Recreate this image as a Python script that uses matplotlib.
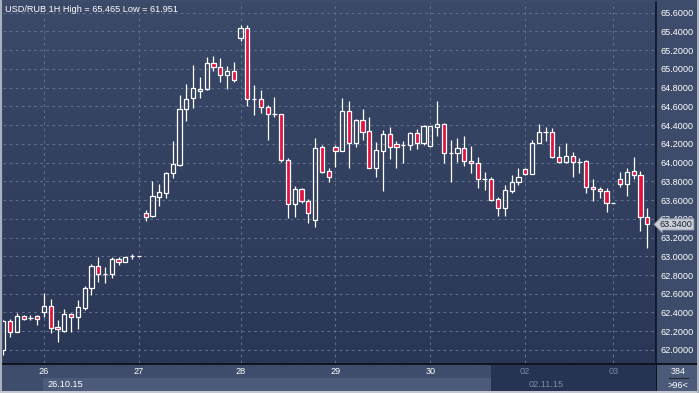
import matplotlib.pyplot as plt
import numpy as np
from matplotlib.patches import Rectangle
from matplotlib.lines import Line2D
import matplotlib.transforms as mtransforms

# hourly USD/RUB candles, 96 bars (open, high, low, close)
opens = [62.00, 62.31, 62.195, 62.36, 62.34, 62.358, 62.408, 62.465, 62.24, 62.205,
         62.38, 62.348, 62.444, 62.657, 62.892, 62.814, 62.81, 62.967, 62.935, 62.998,
         63.0, 63.461, 63.429, 63.636, 63.678, 63.885, 63.974, 64.568, 64.685, 64.76,
         64.781, 65.066, 65.016, 64.931, 64.974, 65.333, 65.433, 64.675, 64.675, 64.596,
         64.52, 64.515, 64.027, 63.554, 63.714, 63.59, 63.387, 64.163, 63.91, 64.166,
         64.127, 64.55, 64.205, 64.454, 64.337, 63.946, 64.127, 64.305, 64.195, 64.19,
         64.19, 64.312, 64.212, 64.18, 64.38, 64.408, 64.1, 64.1, 64.152, 64.02,
         63.992, 63.825, 63.825, 63.61, 63.519, 63.7, 63.789, 63.928, 63.881, 64.205,
         64.323, 64.323, 64.056, 64.01, 64.066, 64.01, 64.013, 63.743, 63.714, 63.696,
         63.565, 63.828, 63.768, 63.91, 63.864, 63.423]
highs = [62.32, 62.33, 62.39, 62.375, 62.375, 62.375, 62.61, 62.543, 62.319, 62.437,
         62.394, 62.533, 62.682, 62.917, 62.995, 62.881, 62.99, 62.995, 62.995, 63.02,
         63.0, 63.493, 63.803, 63.771, 63.895, 64.23, 64.721, 64.838, 65.041, 64.917,
         65.13, 65.141, 65.112, 65.031, 65.073, 65.465, 65.465, 64.828, 64.774, 64.614,
         64.696, 64.52, 64.045, 63.75, 63.732, 63.608, 64.259, 64.188, 63.938, 64.184,
         64.693, 64.657, 64.465, 64.572, 64.49, 64.223, 64.348, 64.383, 64.23, 64.23,
         64.33, 64.355, 64.4, 64.387, 64.657, 64.426, 64.241, 64.259, 64.284, 64.18,
         64.059, 63.899, 63.85, 63.632, 63.761, 63.867, 63.938, 63.938, 64.241, 64.412,
         64.376, 64.365, 64.177, 64.212, 64.117, 64.045, 64.027, 63.825, 63.743, 63.725,
         63.565, 63.903, 63.938, 64.059, 63.91, 63.516]
lows = [61.951, 62.14, 62.19, 62.32, 62.315, 62.27, 62.355, 62.184, 62.088, 62.195,
        62.195, 62.227, 62.427, 62.586, 62.721, 62.711, 62.764, 62.91, 62.935, 62.97,
        63.0, 63.379, 63.422, 63.536, 63.625, 63.838, 63.963, 64.447, 64.586, 64.689,
        64.78, 64.981, 64.863, 64.789, 64.863, 65.301, 64.607, 64.507, 64.529, 64.241,
        64.483, 64.01, 63.412, 63.422, 63.565, 63.358, 63.316, 63.893, 63.796, 63.956,
        64.127, 63.946, 64.17, 64.241, 63.946, 63.849, 63.7, 64.038, 63.938, 63.999,
        64.134, 64.145, 64.19, 64.18, 64.284, 63.999, 63.796, 64.01, 63.967, 63.893,
        63.732, 63.707, 63.593, 63.433, 63.433, 63.679, 63.76, 63.867, 63.881, 64.205,
        64.234, 64.045, 63.992, 63.992, 63.849, 63.885, 63.672, 63.593, 63.618, 63.476,
        63.565, 63.736, 63.647, 63.821, 63.273, 63.089]
closes = [62.31, 62.195, 62.36, 62.335, 62.34, 62.33, 62.465, 62.237, 62.22, 62.383,
          62.348, 62.454, 62.657, 62.892, 62.807, 62.814, 62.967, 62.935, 62.995, 62.998,
          63.0, 63.422, 63.643, 63.682, 63.885, 63.981, 64.568, 64.675, 64.792, 64.789,
          65.066, 65.016, 64.931, 64.974, 64.885, 65.433, 64.675, 64.675, 64.596, 64.522,
          64.52, 64.027, 63.554, 63.714, 63.593, 63.458, 64.152, 63.903, 63.849, 64.12,
          64.55, 64.205, 64.454, 64.33, 63.946, 64.134, 64.305, 64.17, 64.17, 64.19,
          64.312, 64.212, 64.387, 64.387, 64.408, 64.099, 64.1, 64.152, 64.02, 63.992,
          63.828, 63.825, 63.604, 63.519, 63.707, 63.792, 63.842, 63.881, 64.205, 64.323,
          64.323, 64.056, 64.01, 64.066, 64.002, 64.01, 63.743, 63.714, 63.693, 63.565,
          63.565, 63.768, 63.899, 63.864, 63.415, 63.34]

day_index = [6, 20, 35, 49, 63, 77, 90]
day_labels = ['26', '27', '28', '29', '30', '02', '03']
price_ticks = [62.0, 62.2, 62.4, 62.6, 62.8, 63.0, 63.2, 63.4, 63.6, 63.8,
               64.0, 64.2, 64.4, 64.6, 64.8, 65.0, 65.2, 65.4, 65.6]
title = 'USD/RUB 1H High = 65.465 Low = 61.951'
last_price = 63.34

W, H = 699, 393
FONT = 'Liberation Sans'
RED = '#e3123f'


def box(x0, y0, x1, y1):
    # pixel box (top-left origin) -> figure fraction rect
    return [x0 / W, (H - y1) / H, (x1 - x0) / W, (y1 - y0) / H]


def frect(fig, x0, y0, x1, y1, color, z=0):
    l, b, w, h = box(x0, y0, x1, y1)
    fig.add_artist(Rectangle((l, b), w, h, transform=fig.transFigure,
                             facecolor=color, edgecolor='none', zorder=z))


def main():
    fig = plt.figure(figsize=(W / 100, H / 100), dpi=100)
    fig.patch.set_facecolor('#3d4c6a')

    # bottom date strip
    frect(fig, 0, 364, 699, 393, '#3d4d6b')
    frect(fig, 43, 378, 491, 391, '#4b5b79')
    frect(fig, 491, 365, 656, 391, '#263352')
    frect(fig, 657, 365, 699, 391, '#4a5a78')
    # borders
    frect(fig, 0, 0, 2, 393, '#a9b1bd', 5)
    frect(fig, 0, 391, 699, 393, '#c3c8d0', 5)
    frect(fig, 697, 0, 699, 393, '#a9b1bd', 5)
    frect(fig, 656, 364, 657, 391, '#101420', 4)
    frect(fig, 0, 363, 699, 365, '#101420', 4)

    ax = fig.add_axes(box(3, 2, 656, 363))
    n = len(opens)
    xmin, xmax = -0.05, 96.3
    ymin, ymax = 61.861, 65.714
    ax.set_xlim(xmin, xmax)
    ax.set_ylim(ymin, ymax)

    grad = np.linspace(1, 0, 256).reshape(-1, 1)
    top = np.array([0x3b, 0x4a, 0x69]) / 255
    bot = np.array([0x2a, 0x36, 0x55]) / 255
    img = bot + (top - bot) * grad[..., None]
    ax.imshow(img, extent=[xmin, xmax, ymin, ymax], aspect='auto', zorder=0)

    for v in price_ticks:
        ax.axhline(v, color='#5d6d8b', lw=0.8, ls=(0, (2.5, 3)), zorder=1)
    for d in day_index:
        ax.axvline(d, color='#5d6d8b', lw=0.8, ls=(0, (2.5, 3)), zorder=1)

    x = np.arange(n)
    o = np.array(opens)
    c = np.array(closes)
    hi = np.array(highs)
    lo = np.array(lows)
    btop = np.maximum(o, c)
    bbot = np.minimum(o, c)
    ax.vlines(x, btop, hi, color='white', lw=0.9, zorder=3)
    ax.vlines(x, lo, bbot, color='white', lw=0.9, zorder=3)
    face = ['none' if cc >= oo else RED for oo, cc in zip(o, c)]
    ax.bar(x, btop - bbot, bottom=bbot, width=0.62, color=face,
           edgecolor='white', linewidth=0.9, zorder=4)

    ax.set_xticks([])
    ax.yaxis.tick_right()
    ax.set_yticks(price_ticks)
    ax.set_yticklabels([f'{v:.4f}' for v in price_ticks])
    ax.tick_params(axis='y', length=0, pad=3, labelsize=6.6, labelcolor='white')
    for lab in ax.get_yticklabels():
        lab.set_fontfamily(FONT)
    for s in ['top', 'left', 'bottom']:
        ax.spines[s].set_visible(False)
    ax.spines['right'].set_color('#101420')
    ax.spines['right'].set_linewidth(1.2)

    ax.text(2 / 653, 1 - 7 / 361, title, transform=ax.transAxes, color='white',
            fontsize=6.6, family=FONT, va='center', ha='left', zorder=6)

    # current price tag
    trans = mtransforms.blended_transform_factory(ax.transAxes, ax.transData)
    ax.text(1.006, last_price, f'{last_price:.4f}', transform=trans, color='#18202e',
            fontsize=6.6, family=FONT, va='center', ha='left', zorder=7, clip_on=False,
            bbox=dict(boxstyle='larrow,pad=0.12', fc='#c9ced6', ec='#8c95a5', lw=0.6))

    # date axis
    bx = fig.add_axes(box(3, 365, 656, 391))
    bx.set_xlim(xmin, xmax)
    bx.set_ylim(0, 1)
    bx.axis('off')
    for d, lab in zip(day_index, day_labels):
        col = 'white' if d < 72 else '#7d8ba5'
        bx.text(d, 0.76, lab, color=col, fontsize=6.6, family=FONT,
                ha='center', va='center')
    bx.text(day_index[0] + 0.5, 0.25, '26.10.15', color='white', fontsize=6.6,
            family=FONT, ha='left', va='center')
    bx.text(day_index[5] + 0.5, 0.25, '02.11.15', color='#7d8ba5', fontsize=6.6,
            family=FONT, ha='left', va='center')

    fig.text(678 / W, (H - 371) / H, '384', color='white', fontsize=6.6, family=FONT,
             ha='center', va='center')
    fig.add_artist(Line2D([669 / W, 688 / W], [(H - 378) / H] * 2, color='#202838',
                          lw=0.8, transform=fig.transFigure))
    fig.text(678 / W, (H - 385) / H, '>96<', color='white', fontsize=6.6, family=FONT,
             ha='center', va='center')

    fig.savefig('out.png', dpi=100, facecolor=fig.get_facecolor())


if __name__ == '__main__':
    main()
